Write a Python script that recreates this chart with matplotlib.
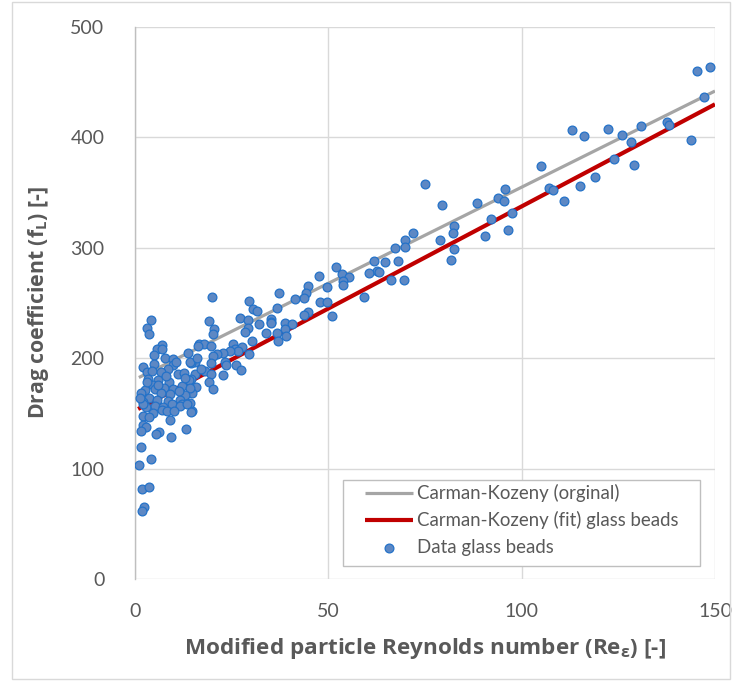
import matplotlib
matplotlib.use("Agg")
import matplotlib.pyplot as plt
from matplotlib.patches import Rectangle

# ---- data ----
ck_x = [1.0, 150.0]
ck_y = [182.5, 442.0]
fit_x = [0.8, 150.0]
fit_y = [154.0, 430.0]

data_x = [145.3, 148.8, 147.1, 143.7, 137.7, 138.2, 130.8, 128.3, 129.1, 125.9,
          122.3, 124.0, 116.0, 112.9, 119.0, 115.2, 110.9, 107.1, 108.2, 104.9,
          95.8, 94.0, 95.4, 97.4, 96.5, 88.4, 92.0, 90.5, 74.9, 79.3,
          82.6, 82.3, 79.0, 82.4, 81.6, 71.8, 69.8, 69.7, 67.2, 68.1,
          66.1, 69.6, 64.7, 61.8, 62.7, 60.6, 63.1, 59.2, 52.1, 53.5,
          55.3, 53.7, 53.7, 47.5, 49.6, 47.8, 49.6, 50.9, 44.7, 44.2,
          43.8, 41.3, 37.2, 36.6, 44.8, 43.6, 35.2, 35.2, 38.7, 40.5,
          38.8, 36.6, 39.0, 37.0, 19.8, 29.4, 30.6, 31.5, 27.2, 29.3,
          19.1, 32.0, 35.1, 20.5, 29.2, 28.4, 20.2, 34.0, 30.2, 16.6,
          17.8, 19.7, 25.4, 25.9, 27.7, 26.7, 24.6, 22.8, 21.1, 20.1,
          29.5, 19.7, 23.2, 23.5, 26.1, 27.3, 15.4, 14.6, 15.5, 18.1,
          19.6, 22.7, 19.2, 20.1, 15.8, 14.7, 14.7, 14.6, 4.1, 3.2,
          3.7, 6.9, 5.6, 7.1, 4.8, 7.8, 9.9, 13.7, 2.1, 5.0,
          14.1, 16.4, 9.9, 10.5, 8.6, 3.0, 4.3, 6.6, 11.0, 12.7,
          14.0, 3.4, 5.9, 4.6, 8.9, 5.2, 2.6, 1.5, 7.5, 9.9,
          12.1, 14.2, 12.9, 9.1, 6.7, 3.7, 5.8, 2.1, 8.6, 11.6,
          2.8, 5.2, 7.3, 10.3, 12.1, 14.2, 2.1, 9.5, 11.6, 13.4,
          14.4, 2.1, 4.7, 6.9, 8.2, 10.1, 3.7, 9.1, 2.1, 2.8,
          1.5, 6.3, 5.4, 9.2, 13.2, 1.5, 4.1, 1.0, 1.7, 3.6,
          2.3, 1.7, 17.0, 11.5, 13.0, 6.0, 3.0, 8.0, 1.2, 16.0]
data_y = [460.4, 463.5, 436.9, 398.0, 414.0, 411.0, 410.6, 396.0, 375.3, 402.0,
          408.0, 380.0, 401.0, 407.0, 364.4, 356.0, 342.7, 354.0, 352.0, 374.4,
          353.5, 345.0, 342.4, 331.5, 316.4, 341.0, 326.0, 311.0, 357.8, 338.8,
          319.5, 313.7, 307.0, 299.0, 289.0, 313.4, 306.8, 301.0, 300.0, 288.3,
          270.6, 270.6, 287.4, 288.3, 279.3, 277.0, 277.8, 255.7, 282.9, 276.6,
          273.9, 270.2, 266.0, 274.2, 264.2, 250.9, 250.6, 238.2, 265.4, 258.8,
          254.3, 253.6, 258.8, 245.7, 242.1, 239.1, 235.2, 232.5, 231.6, 230.7,
          226.7, 222.5, 220.4, 215.9, 255.7, 252.1, 244.3, 242.8, 236.1, 234.6,
          234.0, 231.3, 232.2, 226.2, 227.0, 223.7, 221.6, 222.8, 215.3, 212.6,
          213.1, 211.3, 212.9, 208.6, 209.9, 206.2, 206.5, 204.4, 203.8, 202.0,
          203.8, 195.9, 196.8, 193.6, 193.6, 189.0, 196.8, 195.4, 185.7, 188.1,
          185.7, 184.8, 178.7, 172.4, 173.6, 168.2, 152.4, 181.2, 234.3, 227.6,
          221.6, 211.7, 208.3, 208.0, 203.2, 200.2, 199.0, 204.4, 192.0, 194.5,
          196.3, 211.3, 193.6, 196.3, 190.0, 187.8, 188.1, 187.2, 186.0, 186.3,
          180.3, 181.2, 180.3, 175.7, 178.4, 171.8, 171.2, 168.2, 172.7, 172.1,
          174.8, 173.3, 166.7, 167.3, 168.2, 163.7, 162.1, 160.6, 161.5, 162.1,
          156.1, 156.7, 155.5, 156.7, 158.5, 159.1, 158.5, 158.5, 156.7, 158.5,
          151.6, 147.6, 150.1, 153.0, 152.4, 152.4, 147.0, 144.0, 139.5, 138.0,
          134.3, 133.4, 131.3, 128.9, 135.6, 119.8, 109.0, 103.3, 81.2, 83.3,
          64.9, 61.6, 190.0, 170.0, 182.0, 176.0, 178.0, 184.0, 164.0, 200.0]

x_ticks = [0, 50, 100, 150]
y_ticks = [0, 100, 200, 300, 400, 500]
x_label = "Modified particle Reynolds number (Re$_\\mathregular{ε}$) [-]"
y_label = "Drag coefficient (f$_\\mathregular{L}$) [-]"
legend_labels = ["Carman-Kozeny (orginal)", "Carman-Kozeny (fit) glass beads", "Data glass beads"]

plt.rcParams['font.family'] = ['Lato', 'DejaVu Sans']
label_font = ['Open Sans', 'DejaVu Sans']
text_col = '#595959'

fig = plt.figure(figsize=(7.51, 6.81), dpi=100)
fig.patches.append(Rectangle((12/751, 2/681), (730-12)/751, (679-2)/681, transform=fig.transFigure,
                             fill=False, edgecolor='#D9D9D9', linewidth=1.0))
ax = fig.add_axes([135/751, 102/681, 580/751, 552/681])

ax.plot(ck_x, ck_y, color='#A5A5A5', linewidth=2.3, solid_capstyle='butt', zorder=3,
        label=legend_labels[0])
ax.plot(fit_x, fit_y, color='#C00000', linewidth=3.0, solid_capstyle='butt', zorder=3,
        label=legend_labels[1])
ax.scatter(data_x, data_y, s=40, facecolor='#5D88C4', edgecolor='#2472C8', linewidth=0.9,
           zorder=4, label=legend_labels[2])

ax.set_xlim(0, 150)
ax.set_ylim(0, 500)
ax.set_xticks(x_ticks)
ax.set_yticks(y_ticks)
ax.grid(True, color='#D9D9D9', linewidth=1.0, zorder=0)
ax.set_axisbelow(True)
for s in ['top', 'right', 'bottom']:
    ax.spines[s].set_visible(False)
ax.spines['left'].set_color('#BFBFBF')
ax.spines['left'].set_linewidth(1.0)
ax.tick_params(axis='y', length=0, labelsize=14, labelcolor=text_col, pad=22)
ax.tick_params(axis='x', length=0, labelsize=14, labelcolor=text_col, pad=17)

ax.set_xlabel(x_label, fontsize=16.2, fontweight='bold', color=text_col, labelpad=12,
              family=label_font)
ax.set_ylabel(y_label, fontsize=15.3, fontweight='bold', color=text_col, labelpad=14,
              family=label_font)

# legend frame (Excel style, wide horizontal padding)
ax.add_patch(Rectangle((0.3586, 0.0236), 0.974 - 0.3586, 0.179 - 0.0236, transform=ax.transAxes,
                       facecolor='white', edgecolor='#BFBFBF', linewidth=1.0, zorder=5))
leg = ax.legend(loc='upper left', bbox_to_anchor=(0.3966, 0.172), fontsize=13.4, frameon=False,
                handlelength=2.6, borderpad=0.0, labelspacing=0.5, handletextpad=0.2,
                borderaxespad=0.0)
leg.set_zorder(6)
for t in leg.get_texts():
    t.set_color(text_col)

fig.savefig('out.png', dpi=100)
